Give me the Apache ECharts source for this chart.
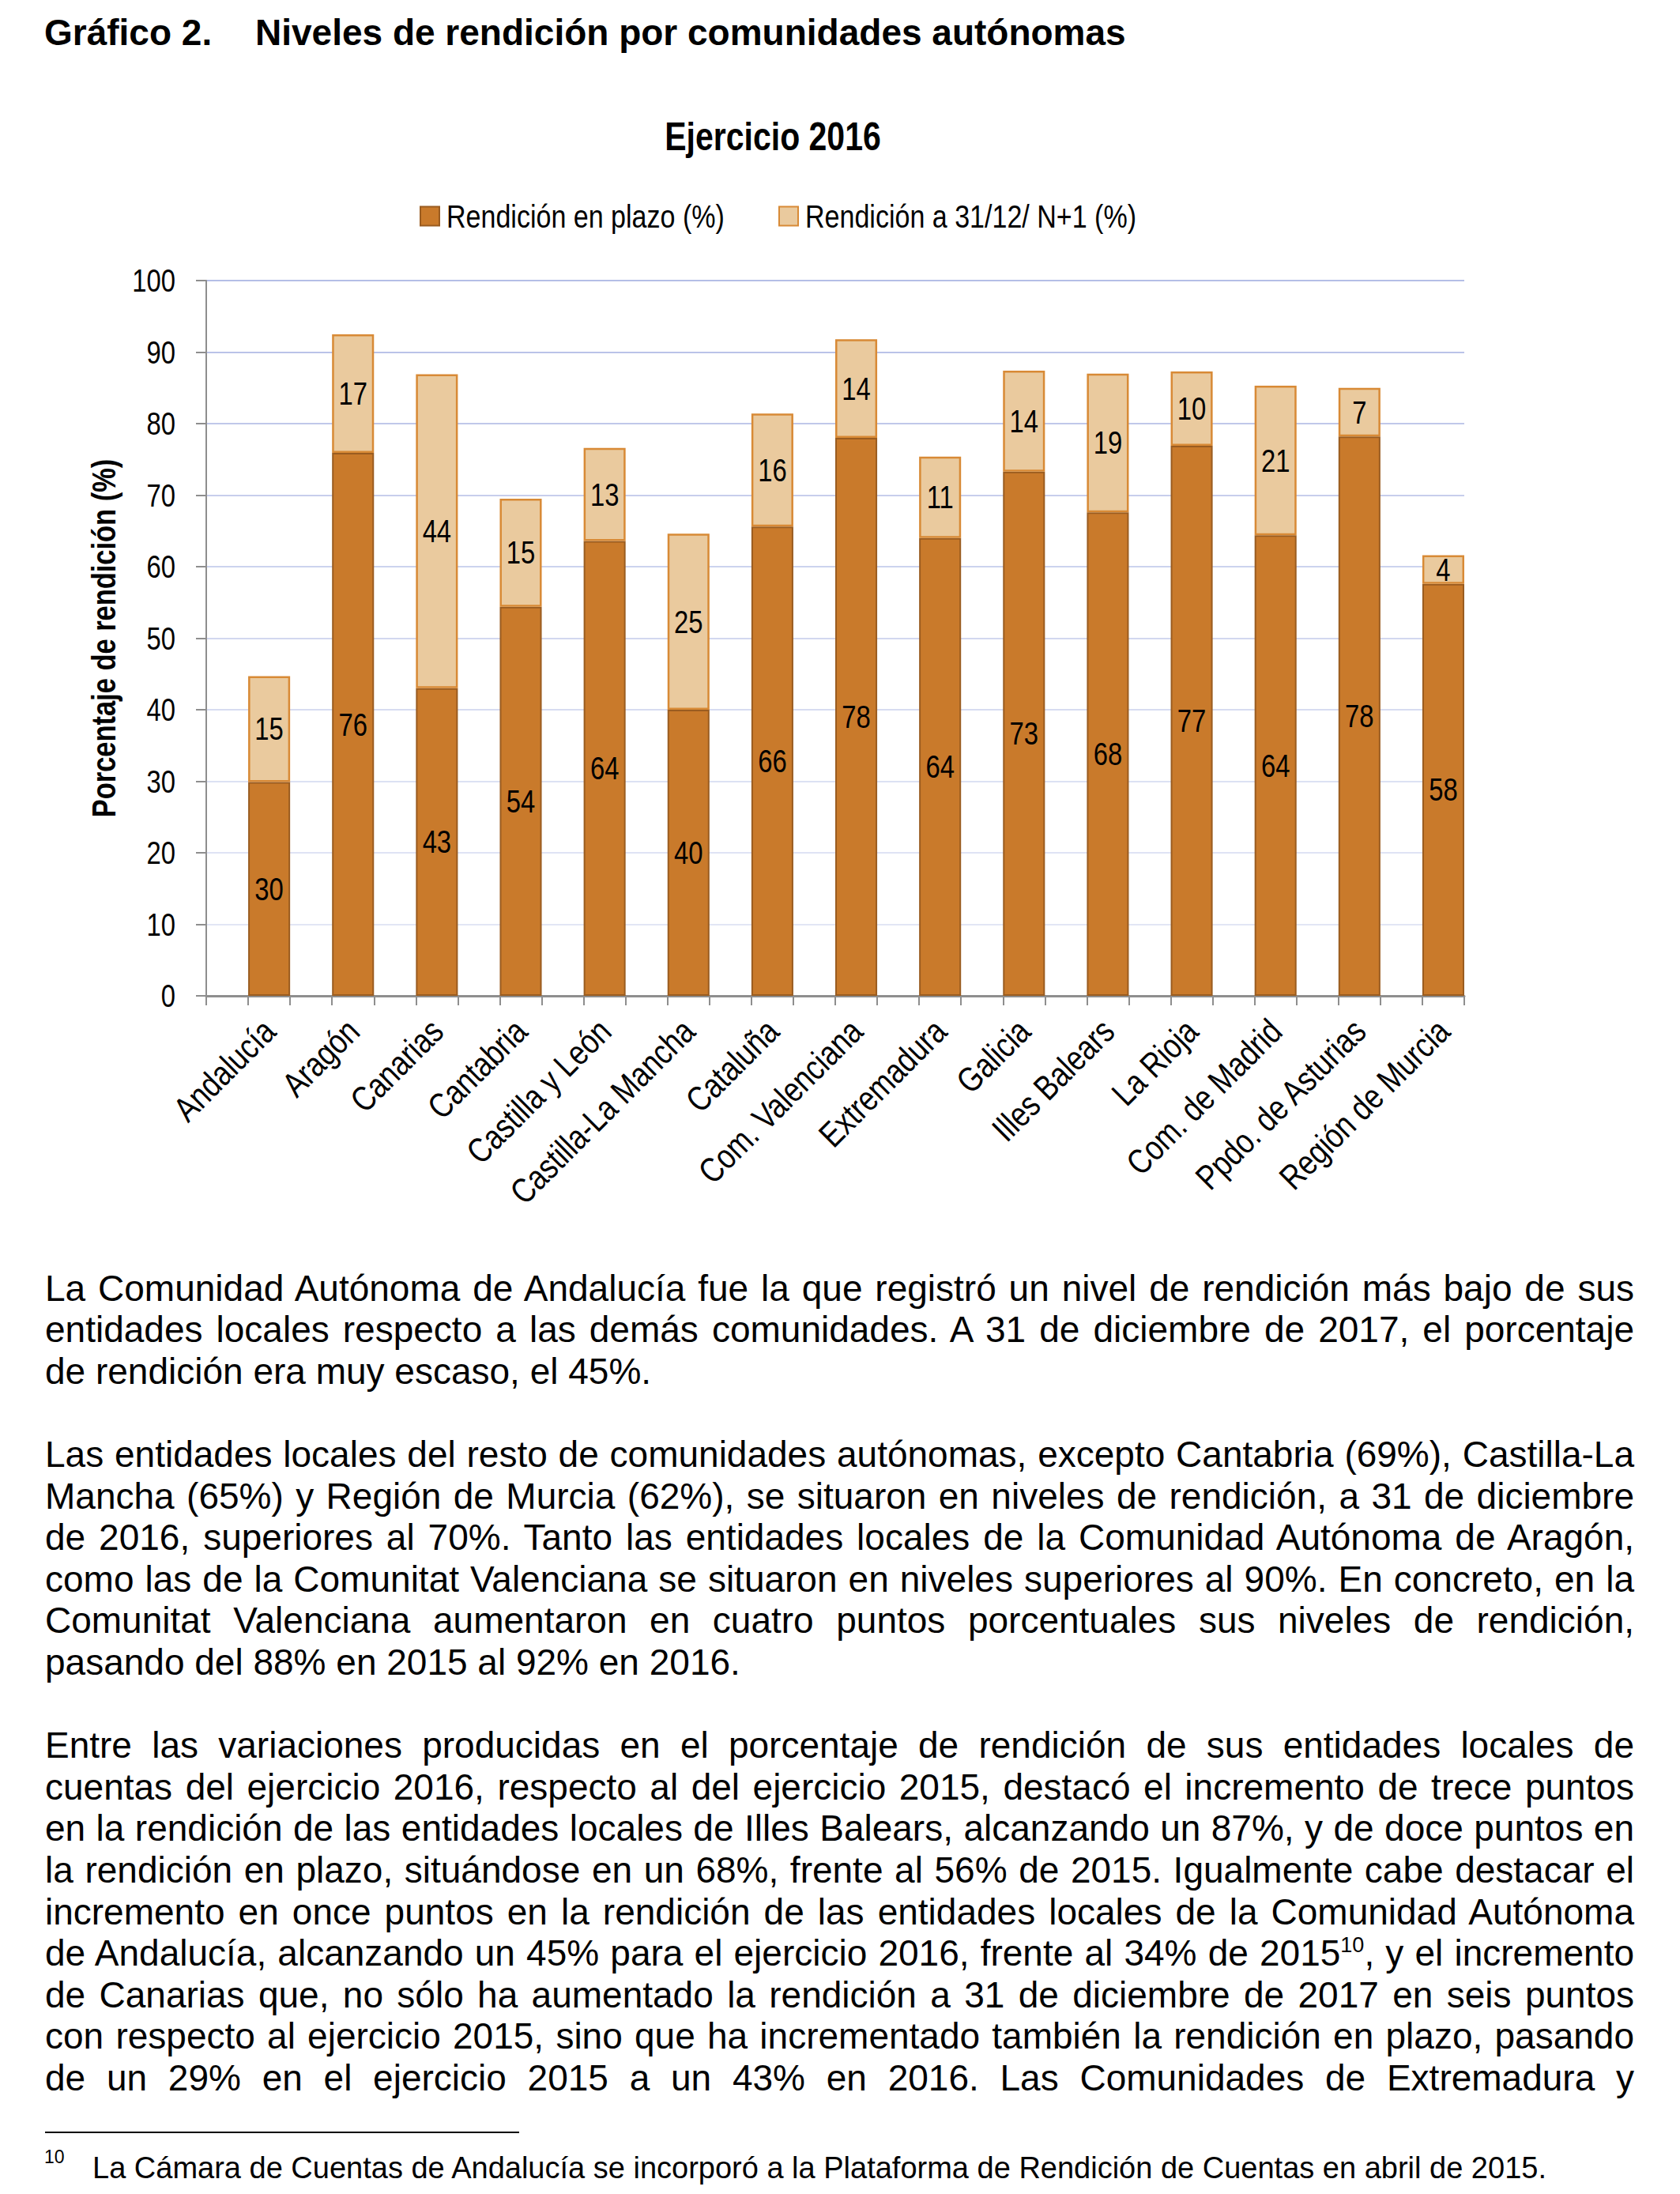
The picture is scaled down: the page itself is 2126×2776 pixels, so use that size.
<!DOCTYPE html>
<html>
<head>
<meta charset="utf-8">
<script src="https://cdn.jsdelivr.net/npm/echarts@6/dist/echarts.min.js"></script>
<style>
html,body{margin:0;padding:0;background:#fff;}
body{width:2126px;height:2776px;position:relative;overflow:hidden;font-family:'Liberation Sans',Arial,sans-serif;color:#000;}
#chart{position:absolute;left:0;top:0;width:2126px;height:1560px;z-index:1;}
.h{position:absolute;top:15px;font-weight:bold;font-size:46px;line-height:53px;white-space:nowrap;z-index:2;}
.ln{position:absolute;left:57px;width:2011px;font-size:46px;line-height:53px;height:53px;white-space:nowrap;text-align:justify;text-align-last:justify;}
.ln.last{text-align:left;text-align-last:left;}
sup{font-size:27px;line-height:0;vertical-align:0;position:relative;top:-17px;}
#sep{position:absolute;left:57px;top:2697px;width:600px;height:2px;background:#000;}
#fn{position:absolute;left:117px;top:2721px;font-size:38px;line-height:44px;white-space:nowrap;}
#fnn{position:absolute;left:56px;top:2716px;font-size:23px;line-height:26px;}
</style>
</head>
<body>
<div id="chart"></div>
<div class="h" style="left:56px;">Gráfico 2.</div>
<div class="h" style="left:323px;">Niveles de rendición por comunidades autónomas</div>

<div id="text"></div>
<div id="sep"></div>
<div id="fnn">10</div>
<div id="fn">La Cámara de Cuentas de Andalucía se incorporó a la Plataforma de Rendición de Cuentas en abril de 2015.</div>

<script>
// ---- data ----
const categories = ['Andalucía','Aragón','Canarias','Cantabria','Castilla y León','Castilla-La Mancha','Cataluña','Com. Valenciana','Extremadura','Galicia','Illes Balears','La Rioja','Com. de Madrid','Ppdo. de Asturias','Región de Murcia'];
const rendicionEnPlazo = [29.9,75.9,43.0,54.4,63.6,40.0,65.6,78.0,64.0,73.3,67.6,76.9,64.4,78.2,57.6];
const rendicionN1 = [14.8,16.6,43.9,15.1,13.0,24.6,15.8,13.8,11.4,14.1,19.4,10.4,20.9,6.8,4.0];
const seriesNames = ['Rendición en plazo (%)','Rendición a 31/12/ N+1 (%)'];
const chartTitle = 'Ejercicio 2016';
const yAxisTitle = 'Porcentaje de rendición (%)';
const yMin = 0, yMax = 100, yStep = 10;

const paragraphs = [
 ['La Comunidad Autónoma de Andalucía fue la que registró un nivel de rendición más bajo de sus',
  'entidades locales respecto a las demás comunidades. A 31 de diciembre de 2017, el porcentaje',
  'de rendición era muy escaso, el 45%.'],
 ['Las entidades locales del resto de comunidades autónomas, excepto Cantabria (69%), Castilla-La',
  'Mancha (65%) y Región de Murcia (62%), se situaron en niveles de rendición, a 31 de diciembre',
  'de 2016, superiores al 70%. Tanto las entidades locales de la Comunidad Autónoma de Aragón,',
  'como las de la Comunitat Valenciana se situaron en niveles superiores al 90%. En concreto, en la',
  'Comunitat Valenciana aumentaron en cuatro puntos porcentuales sus niveles de rendición,',
  'pasando del 88% en 2015 al 92% en 2016.'],
 ['Entre las variaciones producidas en el porcentaje de rendición de sus entidades locales de',
  'cuentas del ejercicio 2016, respecto al del ejercicio 2015, destacó el incremento de trece puntos',
  'en la rendición de las entidades locales de Illes Balears, alcanzando un 87%, y de doce puntos en',
  'la rendición en plazo, situándose en un 68%, frente al 56% de 2015. Igualmente cabe destacar el',
  'incremento en once puntos en la rendición de las entidades locales de la Comunidad Autónoma',
  'de Andalucía, alcanzando un 45% para el ejercicio 2016, frente al 34% de 2015<sup>10</sup>, y el incremento',
  'de Canarias que, no sólo ha aumentado la rendición a 31 de diciembre de 2017 en seis puntos',
  'con respecto al ejercicio 2015, sino que ha incrementado también la rendición en plazo, pasando',
  'de un 29% en el ejercicio 2015 a un 43% en 2016. Las Comunidades de Extremadura y']
];
const lastLineJustified = [false,false,true];

// ---- body text ----
(function(){
  const host = document.getElementById('text');
  const pitch = 52.6;
  let baseline = 1646;
  paragraphs.forEach((lines, pi) => {
    lines.forEach((t, li) => {
      const d = document.createElement('div');
      d.className = 'ln' + ((li === lines.length-1 && !lastLineJustified[pi]) ? ' last' : '');
      d.style.top = (baseline - 42.4) + 'px';
      d.innerHTML = t;
      host.appendChild(d);
      baseline += pitch;
    });
    baseline += pitch;
  });
})();

// ---- chart ----
const NARROW = "'Liberation Sans Narrow','Liberation Sans',Arial,sans-serif";
// is a real narrow face installed? if not, condense the regular face (Arial Narrow = 82% width of Arial)
const needCondense = (function(){
  const c = document.createElement('canvas').getContext('2d');
  c.font = "40px 'Liberation Sans Narrow','Liberation Sans'"; const a = c.measureText('Rendición 0123456789').width;
  c.font = "40px 'Liberation Sans'"; const b = c.measureText('Rendición 0123456789').width;
  return Math.abs(a - b) < 0.5;
})();

// two slots per region: an empty slot then the bar slot (as in the original layout)
const axisData = categories.flatMap(c => ['', c]);
const plazoData = rendicionEnPlazo.flatMap(v => [null, v]);
const n1Data = rendicionN1.flatMap(v => [null, v]);
const gridColors = ['#E4E8F6','#E2E6F5','#DFE3F4','#DCE1F3','#D7DCF1','#D2D8EF','#CCD3EE','#C7CEEC','#C0C8EA','#BAC3E8','#B4BEE6'];

const chart = echarts.init(document.getElementById('chart'), null, {renderer:'svg'});
const labelCfg = {
  show:true, position:'inside', color:'#000', fontFamily:NARROW, fontSize:40,
  textBorderWidth:0, formatter: p => (p.value == null ? '' : String(Math.round(p.value)))
};
const legendText = {fontFamily:NARROW, fontSize:41.5, lineHeight:41, color:'#000', padding:[0,0,0,4]};
chart.setOption({
  animation:false,
  title:{text:chartTitle, left:978, textAlign:'center', top:149, padding:0,
    textStyle:{fontFamily:NARROW, fontWeight:'bold', fontSize:50, lineHeight:48, color:'#000'}},
  legend:[
    {data:[seriesNames[0]], left:531, top:252.5, padding:0, icon:'rect', itemWidth:24, itemHeight:24, textStyle:legendText},
    {data:[seriesNames[1]], left:985, top:252.5, padding:0, icon:'rect', itemWidth:24, itemHeight:24, textStyle:legendText}
  ],
  grid:{left:261, right:273, top:355, bottom:1560-1260, containLabel:false, outerBoundsMode:'none'},
  xAxis:{type:'category', data:axisData, boundaryGap:true,
    axisLine:{show:true, lineStyle:{color:'#8E8E8E', width:3}},
    axisTick:{show:true, interval:0, alignWithLabel:false, length:12, lineStyle:{color:'#8E8E8E', width:2}},
    axisLabel:{interval:0, rotate:45, margin:37, fontFamily:NARROW, fontSize:44, color:'#000'},
    splitLine:{show:false}},
  yAxis:{type:'value', min:yMin, max:yMax, interval:yStep,
    name:yAxisTitle, nameLocation:'middle', nameRotate:90, nameGap:109, nameMoveOverlap:false,
    nameTextStyle:{fontFamily:NARROW, fontWeight:'bold', fontSize:42, color:'#000'},
    axisLine:{show:true, lineStyle:{color:'#8E8E8E', width:2}},
    axisTick:{show:true, length:13, lineStyle:{color:'#8E8E8E', width:2}},
    axisLabel:{margin:39, fontFamily:NARROW, fontSize:40, color:'#000'},
    splitLine:{show:true, lineStyle:{color:gridColors, width:2}}},
  series:[
    {name:seriesNames[0], type:'bar', stack:'total', data:plazoData, barCategoryGap:'0%',
      itemStyle:{color:'#C97A2B', borderColor:'#9A5C20', borderWidth:2},
      label:labelCfg},
    {name:seriesNames[1], type:'bar', stack:'total', data:n1Data, barCategoryGap:'0%',
      itemStyle:{color:'#EACA9E', borderColor:'#D88A36', borderWidth:2.5},
      label:labelCfg}
  ]
});

function condenseNarrowTexts(){
  if (!needCondense) return;
  document.querySelectorAll('#chart svg text').forEach(t => {
    if (t.getAttribute('data-cond')) return;
    const ff = getComputedStyle(t).fontFamily || '';
    if (ff.indexOf('Narrow') < 0) return;
    const len = t.getComputedTextLength();
    if (len > 0) {
      t.setAttribute('textLength', (len * 0.82).toFixed(2));
      t.setAttribute('lengthAdjust', 'spacingAndGlyphs');
      t.setAttribute('data-cond', '1');
    }
  });
}
condenseNarrowTexts();
chart.on('finished', condenseNarrowTexts);
requestAnimationFrame(condenseNarrowTexts);
setTimeout(condenseNarrowTexts, 50);
</script>
</body>
</html>
